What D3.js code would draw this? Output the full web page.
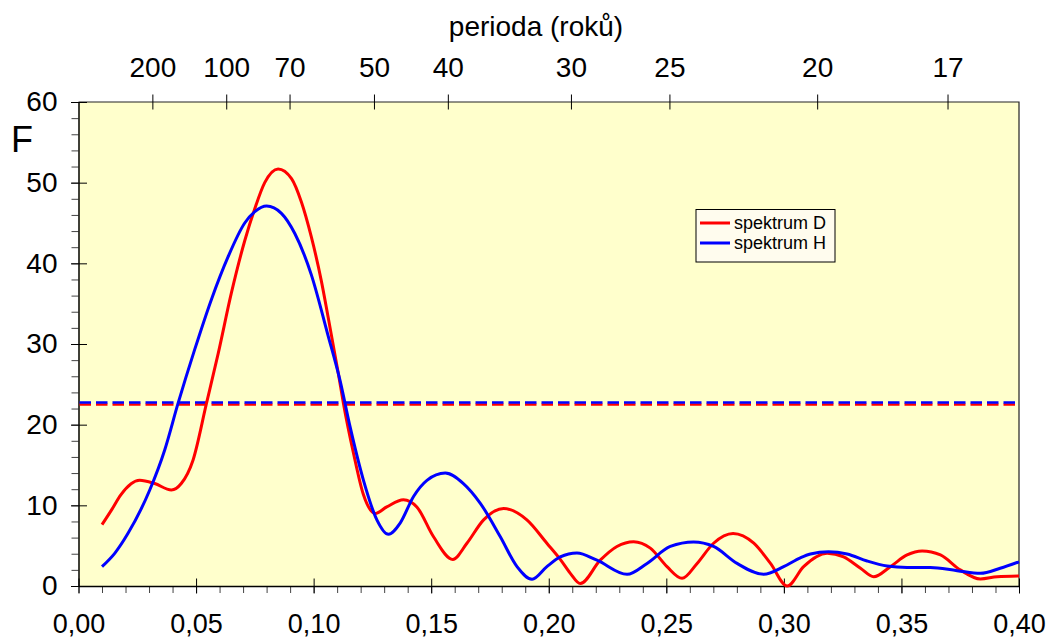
<!DOCTYPE html>
<html>
<head>
<meta charset="utf-8">
<script src="https://cdn.jsdelivr.net/npm/d3@7"></script>
<style>
  body { margin: 0; background: #fff; }
  text { font-family: "Liberation Sans", Arial, sans-serif; fill: #000; }
</style>
</head>
<body>
<script>
// frequency (bottom axis) and F values
var dFreq = [0.010, 0.014, 0.018, 0.026, 0.0324, 0.0395, 0.0437, 0.0487, 0.0544, 0.0594,
  0.065, 0.0707, 0.075, 0.0792, 0.0849, 0.0906, 0.0948, 0.099, 0.1033, 0.106,
  0.1106, 0.1127, 0.117, 0.1212, 0.1262, 0.1311, 0.1382, 0.1439, 0.151, 0.1592,
  0.1652, 0.1723, 0.1808, 0.1907, 0.1992, 0.2049, 0.2091, 0.2134, 0.2219, 0.229,
  0.2361, 0.2432, 0.2503, 0.2567, 0.2631, 0.2701, 0.2784, 0.2872, 0.2943, 0.3014,
  0.3084, 0.3184, 0.3254, 0.3326, 0.3382, 0.3453, 0.3524, 0.3588, 0.3666, 0.375,
  0.3836, 0.3907, 0.40];
var dValue = [7.6, 9.4, 11.3, 13.1, 12.7, 11.9, 12.7, 15.6, 22.6, 28.8,
  36.3, 42.8, 46.8, 50.0, 51.7, 50.5, 47.6, 43.3, 37.8, 33.6,
  26.2, 22.6, 16.4, 11.3, 9.0, 9.8, 10.7, 9.8, 6.1, 3.3,
  5.3, 8.2, 9.6, 8.2, 5.3, 3.3, 1.6, 0.3, 3.2, 4.9,
  5.5, 4.7, 2.4, 0.95, 2.8, 5.3, 6.5, 5.3, 2.8, 0.0,
  2.4, 4.05, 3.6, 2.2, 1.15, 2.4, 3.85, 4.34, 3.85, 2.0,
  0.87, 1.15, 1.24];

var hFreq = [0.010, 0.0154, 0.021, 0.0303, 0.0367, 0.0423, 0.0494, 0.0565, 0.0636, 0.0707,
  0.075, 0.080, 0.0863, 0.092, 0.099, 0.106, 0.1113, 0.1155, 0.1212, 0.1269,
  0.1318, 0.1368, 0.1425, 0.1482, 0.156, 0.1637, 0.1709, 0.1794, 0.1865, 0.1929,
  0.1992, 0.2049, 0.212, 0.2205, 0.2333, 0.2418, 0.2517, 0.2616, 0.2701, 0.2801,
  0.2914, 0.2999, 0.307, 0.3113, 0.319, 0.3269, 0.3354, 0.3439, 0.3524, 0.3623,
  0.3737, 0.3836, 0.392, 0.40];
var hValue = [2.4, 4.05, 6.5, 11.9, 16.9, 22.6, 29.3, 35.5, 40.8, 45,
  46.4, 47.1, 46.2, 43.7, 38.6, 31.2, 25.4, 19.75, 13.1, 8.2,
  6.4, 7.8, 11.1, 13.1, 14.0, 12.7, 10.25, 6.1, 2.4, 0.83,
  2.4, 3.6, 4.1, 3.2, 1.45, 2.8, 4.9, 5.45, 4.9, 2.8,
  1.45, 2.4, 3.5, 3.97, 4.25, 3.97, 3.1, 2.48, 2.3, 2.3,
  1.9, 1.57, 2.2, 3.0];

var dThreshold = 22.5,
    hThreshold = 22.75;

var periods = [200, 100, 70, 50, 40, 30, 25, 20, 17]; // top axis, years
var seriesNames = ["spektrum D", "spektrum H"];
var seriesColors = ["#ff0000", "#0000ff"];

drawChart();

function drawChart(){

    var width = 1050,
        height = 639;

    var pLeft = 78.5, pRight = 1019, pTop = 102, pBottom = 586;

    var x = d3.scaleLinear().domain([0, 0.4]).range([pLeft, pRight]);
    var y = d3.scaleLinear().domain([0, 60]).range([pBottom, pTop]);

    var loc = d3.formatLocale({decimal: ",", thousands: " ", grouping: [3], currency: ["", ""]});
    var fmt = loc.format(".2f");

    var svg = d3.select("body").append("svg")
        .attr("width", width)
        .attr("height", height);

    // plot background
    svg.append("rect")
        .attr("x", pLeft).attr("y", pTop)
        .attr("width", pRight - pLeft).attr("height", pBottom - pTop)
        .attr("fill", "#ffffcc");

    // top and right border
    svg.append("path")
        .attr("d", "M" + pLeft + "," + pTop + "H" + pRight + "V" + pBottom)
        .attr("fill", "none").attr("stroke", "#222").attr("stroke-width", 1.2);

    // bottom axis: minor ticks
    svg.append("g")
        .attr("transform", "translate(0," + pBottom + ")")
        .call(d3.axisBottom(x).tickValues(d3.range(0, 0.4001, 0.01)).tickSize(7).tickFormat(""))
        .call(function(g){ g.select(".domain").remove(); g.selectAll("line").attr("stroke", "#444"); });

    // bottom axis: major ticks and labels
    var xAxis = svg.append("g")
        .attr("transform", "translate(0," + pBottom + ")")
        .call(d3.axisBottom(x).tickValues(d3.range(0, 0.4001, 0.05)).tickSizeInner(7).tickSizeOuter(0).tickFormat(fmt));
    xAxis.select(".domain").attr("stroke", "#000").attr("stroke-width", 1.5);
    xAxis.selectAll(".tick line").attr("y1", -7.5).attr("y2", 7.5).attr("stroke", "#000");
    xAxis.selectAll(".tick text")
        .attr("y", 28).attr("dy", "0.71em")
        .attr("font-size", 27).attr("font-family", "Liberation Sans, Arial, sans-serif");

    // left axis: minor ticks
    svg.append("g")
        .attr("transform", "translate(" + pLeft + ",0)")
        .call(d3.axisLeft(y).tickValues(d3.range(0, 60.1, 2)).tickSize(7).tickFormat(""))
        .call(function(g){ g.select(".domain").remove(); g.selectAll("line").attr("stroke", "#444"); });

    // left axis: major ticks and labels
    var yAxis = svg.append("g")
        .attr("transform", "translate(" + pLeft + ",0)")
        .call(d3.axisLeft(y).tickValues(d3.range(0, 60.1, 10)).tickSizeInner(7).tickSizeOuter(0).tickPadding(14));
    yAxis.select(".domain").attr("stroke", "#000").attr("stroke-width", 1.5);
    yAxis.selectAll(".tick line").attr("x1", -7.5).attr("x2", 8.5).attr("stroke", "#000");
    yAxis.selectAll(".tick text")
        .attr("x", -21)
        .attr("font-size", 28).attr("font-family", "Liberation Sans, Arial, sans-serif");

    // top axis: period in years, placed at 2*pi/period
    var topAxis = svg.append("g")
        .attr("transform", "translate(0," + pTop + ")")
        .call(d3.axisTop(x).tickValues(periods.map(function(p){ return 2 * Math.PI / p; }))
            .tickSizeInner(7).tickSizeOuter(0)
            .tickFormat(function(d){ return Math.round(2 * Math.PI / d); }));
    topAxis.select(".domain").remove();
    topAxis.selectAll(".tick line").attr("y1", 7.5).attr("y2", -7.5).attr("stroke", "#000");
    topAxis.selectAll(".tick text")
        .attr("y", -25).attr("dy", "0em")
        .attr("font-size", 28).attr("font-family", "Liberation Sans, Arial, sans-serif");

    svg.append("text")
        .attr("x", 536).attr("y", 36)
        .attr("text-anchor", "middle")
        .style("font-size", "28px")
        .text("perioda (roků)");

    svg.append("text")
        .attr("x", 11).attr("y", 152)
        .style("font-size", "36px")
        .text("F");

    // threshold lines
    var thresholds = [dThreshold, hThreshold];
    svg.selectAll(".thr")
        .data(thresholds)
        .enter().append("line")
        .attr("class", "thr")
        .attr("x1", pLeft + 1).attr("x2", pRight)
        .attr("y1", function(d){ return y(d); })
        .attr("y2", function(d){ return y(d); })
        .attr("stroke", function(d, i){ return seriesColors[i]; })
        .attr("stroke-width", 2.4)
        .attr("stroke-dasharray", "11.5,5");

    // curves
    var line = d3.line()
        .x(function(d){ return x(d[0]); })
        .y(function(d){ return y(d[1]); })
        .curve(d3.curveMonotoneX);

    var series = [d3.zip(dFreq, dValue), d3.zip(hFreq, hValue)];
    svg.selectAll(".curve")
        .data(series)
        .enter().append("path")
        .attr("class", "curve")
        .attr("d", line)
        .attr("fill", "none")
        .attr("stroke", function(d, i){ return seriesColors[i]; })
        .attr("stroke-width", 3)
        .attr("stroke-linejoin", "round");

    // legend
    var legend = svg.append("g");
    legend.append("rect")
        .attr("x", 696).attr("y", 209.5)
        .attr("width", 139).attr("height", 52.5)
        .attr("fill", "#fffcee").attr("stroke", "#000").attr("stroke-width", 1);
    seriesNames.forEach(function(name, i){
        var ly = 223 + i * 20;
        legend.append("line")
            .attr("x1", 700).attr("x2", 730)
            .attr("y1", ly).attr("y2", ly)
            .attr("stroke", seriesColors[i]).attr("stroke-width", 3);
        legend.append("text")
            .attr("x", 734).attr("y", ly + 6)
            .style("font-size", "18px")
            .text(name);
    });
}
</script>
</body>
</html>
